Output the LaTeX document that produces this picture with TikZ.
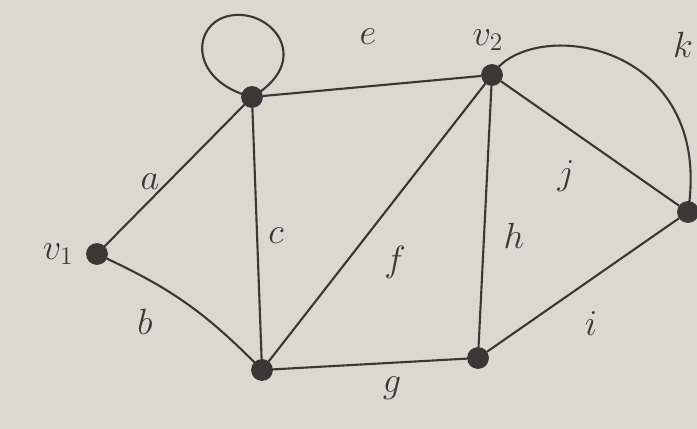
\documentclass[tikz,border=0pt]{standalone}
\usepackage{tikz}
\usetikzlibrary{positioning}
\definecolor{paper}{HTML}{DCD8D0}
\definecolor{pencil}{HTML}{3A3836}
\begin{document}
\begin{tikzpicture}[
  x=0.02cm,y=-0.02cm,
  font=\huge,
  vtx/.style={circle,fill=pencil,draw=pencil,inner sep=0pt,minimum size=12pt},
  lbl/.style={text=pencil,inner sep=1pt},
  edge/.style={draw=pencil,line width=1.2pt}]
  \fill[paper] (0,0) rectangle (697,429);
  \useasboundingbox (0,0) rectangle (697,429);
  \node[vtx] (v1) at (97,254)  {};
  \node[vtx] (tl) at (252,97)  {};
  \node[vtx] (v2) at (492,75)  {};
  \node[vtx] (rt) at (688,212) {};
  \node[vtx] (bl) at (262,370) {};
  \node[vtx] (bm) at (478,358) {};
  \foreach \x/\y in {v1/tl,tl/bl,tl/v2,bl/v2,v2/bm,v2/rt,bm/rt,bl/bm}
    \draw[edge] (\x)--(\y);
  \draw[edge] (v1) to[bend left=10] (bl);
  % loop at top left vertex
  \coordinate (looptop) at (235,15);
  \draw[edge] (tl.center) .. controls (185,80) and (192,18) .. (looptop)
    .. controls (275,12) and (312,62) .. (tl.center);
  \draw[edge] (v2.center) .. controls (530,15) and (715,40) .. (rt.center);
  % edge labels
  \node[lbl] (la) at (150,182) {$a$};
  \node[lbl] (lb) at (145,322) {$b$};
  \node[lbl] (lc) at (276,236) {$c$};
  \node[lbl] (le) at (368,37)  {$e$};
  \node[lbl] (lf) at (395,262) {$f$};
  \node[lbl] (lg) at (392,388) {$g$};
  \node[lbl] (lh) at (514,236) {$h$};
  \node[lbl] (li) at (591,324) {$i$};
  \node[lbl] (lj) at (566,176) {$j$};
  \node[lbl] (lk) at (683,45)  {$k$};
  % vertex names
  \node[lbl,left=6pt of v1] (n1) {$v_1$};
  \node[lbl] (n2) at (488,40) {$v_2$};
\end{tikzpicture}
\end{document}
